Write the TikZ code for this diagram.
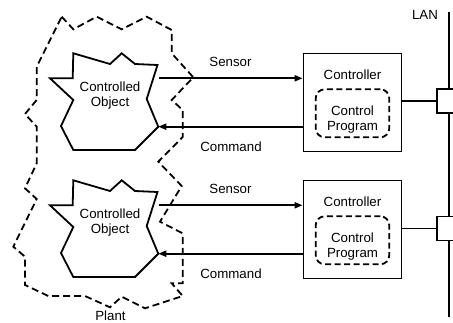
\documentclass[tikz,border=0pt]{standalone}
\usepackage{fontspec}
\setmainfont{Liberation Sans}
\usetikzlibrary{arrows.meta}
\begin{document}
\begin{tikzpicture}[x=1pt,y=-1pt,
 lbl/.style={font=\fontsize{13.3}{15}\selectfont, inner sep=0pt, align=center},
 objline/.style={line width=1.8pt, line join=miter},
 plantline/.style={line width=1.8pt, dash pattern=on 7pt off 4pt},
 ctrlbox/.style={draw, line width=1.8pt, minimum width=98pt, minimum height=98pt, inner sep=0pt},
 progbox/.style={draw, line width=1.8pt, dash pattern=on 6pt off 3.5pt, rounded corners=9pt, minimum width=73.6pt, minimum height=48pt, inner sep=0pt},
 arr/.style={line width=1.8pt, -{Triangle[length=8pt,width=6pt]}},
 link/.style={line width=1.8pt},
 lanbox/.style={draw, fill=white, line width=1.8pt, minimum width=24pt, minimum height=24pt, inner sep=0pt},
 objstar/.pic={\draw[objline] (50,78.3) -- (72.7,78.3) -- (73.3,53.3) -- (110,64) -- (121.7,53.3) -- (135,64) -- (157.5,65) -- (146.7,99) -- (158.3,126.7) -- (135,150) -- (73.3,150) -- (61,126) -- (73.3,100) -- cycle;}
]
\useasboundingbox (0,0) rectangle (453,322);
\clip (0,0) rectangle (453,322);

% plant outline
\draw[plantline] (61.7,16.7) -- (73.3,29.3) -- (96.7,16.7) -- (121.7,29.3) -- (146.7,16.7) -- (171.7,30) -- (171.7,53.3) -- (193.3,77.3) -- (171.7,100) -- (182.7,110) -- (182.7,137) -- (158.3,161.7) -- (181.7,186) -- (160,221.7) -- (182.7,233.3) -- (182.7,283.3) -- (171.7,283.3) -- (182.7,296) -- (145,308.3) -- (121.7,296.7) -- (110,307.3) -- (85,296) -- (48.3,296) -- (25,285) -- (25,256.7) -- (13.3,246.7) -- (36.7,199) -- (25,188.3) -- (36.7,163.3) -- (36.7,126.7) -- (25,114) -- (36.7,100) -- (36.7,66.7) -- cycle;
\node[lbl] (plant) at (110.5,315.3) {Plant};

% controlled objects
\pic at (0,0) {objstar};
\pic at (0,127) {objstar};
\node[lbl] (o1) at (110,96) {Controlled\\Object};
\node[lbl] (o2) at (110,223) {Controlled\\Object};

% controllers
\node[ctrlbox] (c1) at (352.5,102.5) {};
\node[ctrlbox] (c2) at (352.5,229.5) {};
\node[lbl] (ct1) at (352.5,75) {Controller};
\node[lbl] (ct2) at (352.5,202) {Controller};
\node[progbox] (p1) at (352.5,113.3) {};
\node[progbox] (p2) at (352.5,240.3) {};
\node[lbl] (pt1) at (352.5,119.2) {Control\\Program};
\node[lbl] (pt2) at (352.5,246.2) {Control\\Program};

% connectors
\coordinate (s1) at (159,78.3);
\coordinate (m1) at (158.3,126.7);
\coordinate (s2) at (159,205.3);
\coordinate (m2) at (158.3,253.7);
\draw[arr] (s1) -- (s1 -| c1.west);
\draw[arr] (m1 -| c1.west) -- (m1);
\draw[arr] (s2) -- (s2 -| c2.west);
\draw[arr] (m2 -| c2.west) -- (m2);
\node[lbl] (sl1) at (230.5,61.7) {Sensor};
\node[lbl] (cl1) at (231,146.7) {Command};
\node[lbl] (sl2) at (230.5,189) {Sensor};
\node[lbl] (cl2) at (231,273.7) {Command};

% LAN
\coordinate (lantop) at (449.3,12);
\coordinate (lanbot) at (449.3,317);
\draw[link] (lantop) -- (lanbot);
\node[lbl] (lan) at (425,15) {LAN};
\node[lanbox] (l1) at (449,101.3) {};
\node[lanbox] (l2) at (449,228.5) {};
\draw[link] (c1.east |- l1.west) -- (l1.west);
\draw[link] (c2.east |- l2.west) -- (l2.west);
\end{tikzpicture}
\end{document}
